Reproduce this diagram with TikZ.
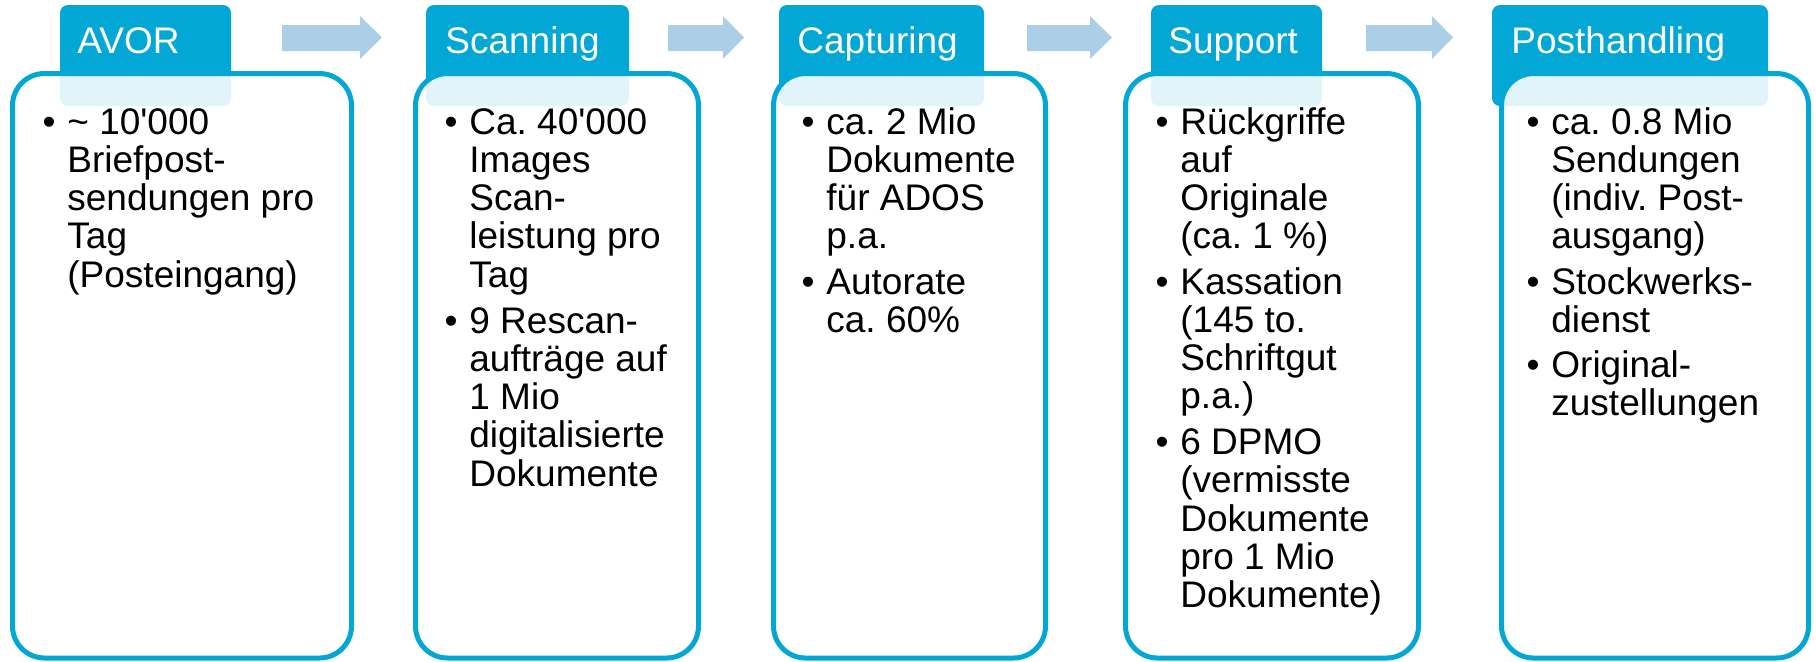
\documentclass[tikz,border=0pt]{standalone}
\usepackage{fontspec}
\setmainfont{Liberation Sans}[Ligatures=TeXOff]
\frenchspacing
\definecolor{tabblue}{HTML}{02A7D6}
\definecolor{arrowblue}{HTML}{ABCFE7}
\newcommand{\itm}[1]{\parbox[t]{170pt}{\raggedright\frenchspacing #1}}
\tikzset{
  tabbox/.style={fill=tabblue, rounded corners=4pt},
  frame/.style={draw=tabblue, line width=2.5pt, rounded corners=16pt, fill=white, fill opacity=0.88},
  blockarrow/.style={fill=arrowblue},
  tabtext/.style={anchor=base west, inner sep=0pt, text=white, font=\fontsize{18.5pt}{21pt}\selectfont},
  bul/.style={anchor=base, inner sep=0pt, font=\fontsize{18.5pt}{19.15pt}\selectfont},
  itemtext/.style={anchor=base west, inner sep=0pt, font=\fontsize{18.5pt}{19.15pt}\selectfont},
}
\begin{document}
\begin{tikzpicture}[x=0.5pt,y=-0.5pt]
\useasboundingbox (0,0) rectangle (1816,661);
% arrows
\fill[blockarrow] (282,25) -- (360,25) -- (360,16) -- (382,37.5) -- (360,59) -- (360,51) -- (282,51) -- cycle;
\fill[blockarrow] (668,25) -- (723,25) -- (723,16) -- (744,37.5) -- (723,59) -- (723,51) -- (668,51) -- cycle;
\fill[blockarrow] (1027,25) -- (1090,25) -- (1090,16) -- (1112,37.5) -- (1090,59) -- (1090,51) -- (1027,51) -- cycle;
\fill[blockarrow] (1366,25) -- (1432,25) -- (1432,16) -- (1453,37.5) -- (1432,59) -- (1432,51) -- (1366,51) -- cycle;
% tabs
\fill[tabbox] (60,5) rectangle (231,106);
\fill[tabbox] (426,5) rectangle (629,106);
\fill[tabbox] (779,5) rectangle (984,106);
\fill[tabbox] (1151,5) rectangle (1322,106);
\fill[tabbox] (1492,5) rectangle (1768,106);
% frames
\draw[frame] (12.5,73.5) rectangle (351.5,658);
\draw[frame] (415.5,73.5) rectangle (698.5,658);
\draw[frame] (773.5,73.5) rectangle (1045.5,658);
\draw[frame] (1125.5,73.5) rectangle (1418.5,658);
\draw[frame] (1501.5,73.5) rectangle (1808.5,658);
% tab labels
\node[tabtext] (l1) at (77,53) {AVOR};
\node[tabtext] (l2) at (445,53) {Scanning};
\node[tabtext] (l3) at (797,53) {Capturing};
\node[tabtext] (l4) at (1168,53) {Support};
\node[tabtext] (l5) at (1511,53) {Posthandling};
% box 1
\node[bul] (b11) at (49,134) {•};
\node[itemtext] (i11) at (67,134) {\itm{\textasciitilde\ 10'000\\Briefpost-\\sendungen pro\\Tag\\(Posteingang)}};
% box 2
\node[bul] (b21) at (451,134) {•};
\node[itemtext] (i21) at (469,134) {\itm{Ca. 40'000\\Images\\Scan-\\leistung pro\\Tag}};
\node[bul] (b22) at (451,333) {•};
\node[itemtext] (i22) at (469,333) {\itm{9 Rescan-\\aufträge auf\\1 Mio\\digitalisierte\\Dokumente}};
% box 3
\node[bul] (b31) at (808,134) {•};
\node[itemtext] (i31) at (826,134) {\itm{ca. 2 Mio\\Dokumente\\für ADOS\\p.a.}};
\node[bul] (b32) at (808,294) {•};
\node[itemtext] (i32) at (826,294) {\itm{Autorate\\ca. 60\%}};
% box 4
\node[bul] (b41) at (1162,134) {•};
\node[itemtext] (i41) at (1180,134) {\itm{Rückgriffe\\auf\\Originale\\(ca. 1 \%)}};
\node[bul] (b42) at (1162,294) {•};
\node[itemtext] (i42) at (1180,294) {\itm{Kassation\\(145 to.\\Schriftgut\\p.a.)}};
\node[bul] (b43) at (1162,454.5) {•};
\node[itemtext] (i43) at (1180,454.5) {\itm{6 DPMO\\(vermisste\\Dokumente\\pro 1 Mio\\Dokumente)}};
% box 5
\node[bul] (b51) at (1533,134) {•};
\node[itemtext] (i51) at (1551,134) {\itm{ca. 0.8 Mio\\Sendungen\\(indiv. Post-\\ausgang)}};
\node[bul] (b52) at (1533,294) {•};
\node[itemtext] (i52) at (1551,294) {\itm{Stockwerks-\\dienst}};
\node[bul] (b53) at (1533,377.5) {•};
\node[itemtext] (i53) at (1551,377.5) {\itm{Original-\\zustellungen}};
\end{tikzpicture}
\end{document}
